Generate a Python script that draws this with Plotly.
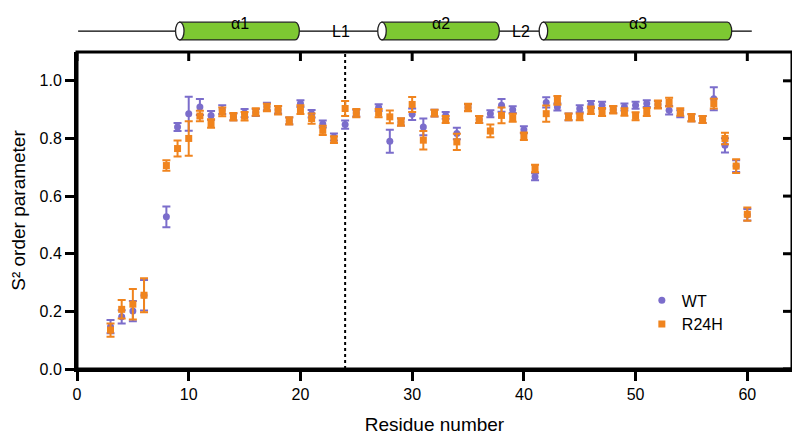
import plotly.graph_objects as go

residues = [3, 4, 5, 6, 8, 9, 10, 11, 12, 13, 14, 15, 16, 17, 18, 19, 20, 21, 22, 23, 24, 25,
            27, 28, 29, 30, 31, 32, 33, 34, 35, 36, 37, 38, 39, 40, 41, 42, 43, 44, 45, 46, 47,
            48, 49, 50, 51, 52, 53, 54, 55, 56, 57, 58, 59, 60]

wt_s2 = [0.147, 0.181, 0.201, 0.256, 0.528, 0.840, 0.886, 0.909, 0.880, 0.900, 0.875, 0.888,
         0.890, 0.911, 0.900, 0.861, 0.921, 0.886, 0.850, 0.805, 0.848, 0.888, 0.907, 0.790,
         0.857, 0.884, 0.840, 0.888, 0.880, 0.817, 0.907, 0.866, 0.886, 0.915, 0.900, 0.830,
         0.667, 0.925, 0.909, 0.875, 0.903, 0.918, 0.915, 0.900, 0.909, 0.915, 0.921, 0.918,
         0.898, 0.886, 0.872, 0.866, 0.938, 0.776, 0.704, 0.535]
wt_err = [0.023, 0.023, 0.035, 0.053, 0.036, 0.014, 0.059, 0.028, 0.015, 0.015, 0.012, 0.014,
          0.012, 0.013, 0.013, 0.012, 0.012, 0.013, 0.012, 0.012, 0.014, 0.012, 0.012, 0.040,
          0.012, 0.020, 0.029, 0.012, 0.012, 0.020, 0.012, 0.012, 0.012, 0.022, 0.012, 0.012,
          0.012, 0.018, 0.012, 0.012, 0.012, 0.012, 0.012, 0.012, 0.012, 0.012, 0.012, 0.012,
          0.015, 0.012, 0.012, 0.012, 0.040, 0.025, 0.020, 0.020]

r24h_s2 = [0.135, 0.207, 0.225, 0.256, 0.706, 0.765, 0.800, 0.878, 0.852, 0.892, 0.875, 0.877,
           0.892, 0.907, 0.898, 0.861, 0.900, 0.869, 0.828, 0.796, 0.904, 0.888, 0.888, 0.875,
           0.857, 0.918, 0.794, 0.888, 0.866, 0.788, 0.907, 0.866, 0.826, 0.880, 0.872, 0.808,
           0.696, 0.886, 0.932, 0.875, 0.875, 0.898, 0.892, 0.900, 0.892, 0.877, 0.892, 0.918,
           0.926, 0.892, 0.872, 0.866, 0.921, 0.800, 0.704, 0.537]
r24h_err = [0.023, 0.032, 0.053, 0.059, 0.018, 0.028, 0.060, 0.018, 0.015, 0.015, 0.013, 0.015,
            0.013, 0.013, 0.015, 0.013, 0.015, 0.018, 0.016, 0.012, 0.026, 0.014, 0.014, 0.022,
            0.013, 0.026, 0.032, 0.012, 0.012, 0.028, 0.013, 0.012, 0.022, 0.027, 0.014, 0.013,
            0.013, 0.028, 0.015, 0.012, 0.012, 0.013, 0.014, 0.013, 0.013, 0.014, 0.014, 0.014,
            0.015, 0.013, 0.013, 0.012, 0.017, 0.020, 0.024, 0.023]

# secondary structure (residue ranges)
helix_labels = ["α1", "α2", "α3"]
helix_start = [9.2, 27.3, 41.75]
helix_end = [19.9, 37.8, 58.6]
loop_labels = ["L1", "L2"]
chain_start, chain_end = 0.1, 60.4
mutation_site = 24

x_range = [0, 64]
y_range = [0, 1.1]
x_ticks = [0, 10, 20, 30, 40, 50, 60]
y_ticks = [0.0, 0.2, 0.4, 0.6, 0.8, 1.0]

WT_COLOR = "#7b6dcb"
R24H_COLOR = "#f0841e"
FONT = "Liberation Sans, Arial, sans-serif"

W, H = 792, 429
M = dict(l=69, r=8, t=44, b=68)
plot_w = W - M["l"] - M["r"]
plot_h = H - M["t"] - M["b"]
TICKLEN = 9

fig = go.Figure()
fig.add_trace(go.Scatter(
    x=residues, y=wt_s2, mode="markers", name="WT",
    marker=dict(symbol="circle", size=7, color=WT_COLOR),
    error_y=dict(type="data", array=wt_err, color=WT_COLOR, thickness=2, width=4),
))
fig.add_trace(go.Scatter(
    x=residues, y=r24h_s2, mode="markers", name="R24H",
    marker=dict(symbol="square", size=7, color=R24H_COLOR),
    error_y=dict(type="data", array=r24h_err, color=R24H_COLOR, thickness=2, width=4),
))

shapes = []
# dotted line at the mutation site
shapes.append(dict(type="line", xref="x", yref="paper", x0=mutation_site, x1=mutation_site,
                   y0=0, y1=1, line=dict(color="black", width=2, dash="3px,3px"), layer="below"))

# plot frame
shapes.append(dict(type="rect", xref="paper", yref="paper", x0=0, x1=1, y0=0, y1=1,
                   line=dict(color="black", width=3), fillcolor="rgba(0,0,0,0)"))

# inward mirror ticks on top and right
for t in x_ticks:
    shapes.append(dict(type="line", xref="x", yref="paper", x0=t, x1=t,
                       y0=1, y1=1 - TICKLEN / plot_h, line=dict(color="black", width=3)))
for t in y_ticks:
    shapes.append(dict(type="line", xref="paper", yref="y", x0=1, x1=1 - TICKLEN / plot_w,
                       y0=t, y1=t, line=dict(color="black", width=3)))

# secondary structure diagram
y_mid, y_top, y_bot = 1.066, 1.094, 1.038
shapes.append(dict(type="line", xref="x", yref="paper", x0=chain_start, x1=chain_end,
                   y0=y_mid, y1=y_mid, line=dict(color="black", width=1.3)))
rx = 0.38
k = 0.5523
ry = (y_top - y_bot) / 2
annotations = []
for lab, s, e in zip(helix_labels, helix_start, helix_end):
    xe = e - rx
    path = (f"M {s},{y_top} L {xe},{y_top} "
            f"C {xe + k*rx},{y_top} {e},{y_mid + k*ry} {e},{y_mid} "
            f"C {e},{y_mid - k*ry} {xe + k*rx},{y_bot} {xe},{y_bot} "
            f"L {s},{y_bot} Z")
    shapes.append(dict(type="path", xref="x", yref="paper", path=path,
                       fillcolor="#7dc832", line=dict(color="#222222", width=1.3)))
    shapes.append(dict(type="circle", xref="x", yref="paper", x0=s - rx, x1=s + rx,
                       y0=y_bot, y1=y_top, fillcolor="white", line=dict(color="#222222", width=1.3)))
    annotations.append(dict(x=(s + e) / 2, y=1.123, xref="x", yref="paper", text=lab,
                            showarrow=False, font=dict(size=16, color="black", family=FONT)))
for i, lab in enumerate(loop_labels):
    annotations.append(dict(x=(helix_end[i] + helix_start[i + 1]) / 2, y=1.099, xref="x",
                            yref="paper", text=lab, showarrow=False,
                            font=dict(size=16, color="black", family=FONT)))

axis_common = dict(showgrid=False, zeroline=False, showline=True, linecolor="black",
                   linewidth=3, tickwidth=3, ticklen=TICKLEN, tickcolor="black", automargin=False)

fig.update_layout(
    width=W, height=H,
    margin=dict(**M, autoexpand=False),
    paper_bgcolor="white", plot_bgcolor="white",
    font=dict(family=FONT, size=16, color="black"),
    shapes=shapes, annotations=annotations,
    xaxis=dict(range=x_range, tickvals=x_ticks, ticks="outside",
               title=dict(text="Residue number", standoff=16), **axis_common),
    yaxis=dict(range=y_range, tickvals=y_ticks, tickformat=".1f", ticks="outside",
               title=dict(text="S² order parameter", standoff=14), **axis_common),
    legend=dict(x=0.79, y=0.27, xanchor="left", yanchor="top", bgcolor="rgba(0,0,0,0)",
                font=dict(size=16)),
    showlegend=True,
)

fig.write_html("out.html")
